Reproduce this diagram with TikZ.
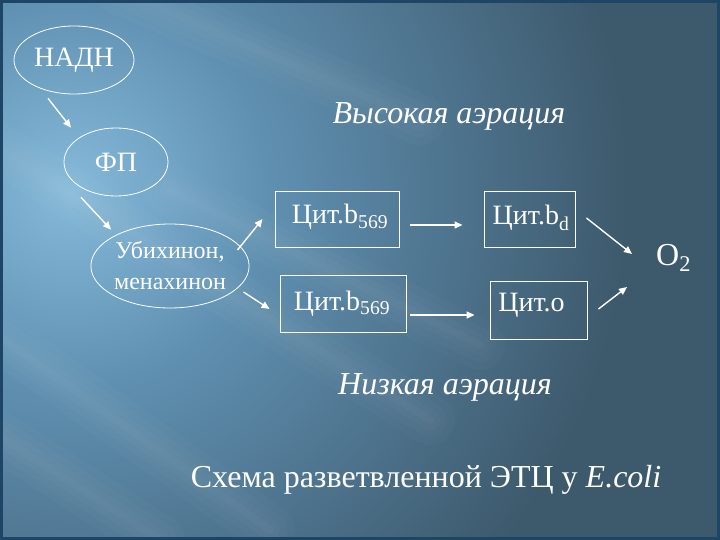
\documentclass[tikz,border=0pt]{standalone}
\usepackage{fontspec}
\setmainfont{Liberation Serif}
\newfontfamily\tnr{Liberation Serif}
\usetikzlibrary{arrows.meta,shapes.geometric}
\definecolor{bgbase}{HTML}{3D596C}
\definecolor{bgmid}{HTML}{5F8FB0}
\definecolor{bglight}{HTML}{86BADA}
\definecolor{edgec}{HTML}{1E4466}
\pgfdeclareradialshading{glow}{\pgfpoint{0bp}{0bp}}{color(0bp)=(bglight); color(9bp)=(bgmid); color(25bp)=(bgbase); color(50bp)=(bgbase)}
\tikzset{
  ell/.style={draw=white, line width=0.8pt, ellipse, inner sep=0pt},
  box/.style={draw=white, line width=0.9pt, rectangle, inner sep=0pt},
  lbl/.style={text=white, font=\tnr\fontsize{28}{32}\selectfont, inner sep=0pt},
  big/.style={text=white, font=\tnr\fontsize{32}{36}\selectfont, inner sep=0pt},
  arr/.style={draw=white, line width=1.4pt, -{Triangle[length=8pt,width=7pt]}},
  streak/.style={white, line cap=round},
}
\begin{document}
\begin{tikzpicture}[x=1pt,y=-1pt]
\useasboundingbox (0,0) rectangle (720,540);
% background
\begin{scope}
  \clip (0,0) rectangle (720,540);
  \fill[bgbase] (0,0) rectangle (720,540);
  \shade[shading=glow] (70,190) circle [radius=560];
  \foreach \a/\b in {{(-30,130)}/{(430,420)}, {(170,190)}/{(480,345)}, {(-10,330)}/{(270,530)}, {(-10,430)}/{(160,540)}, {(120,-10)}/{(420,120)}}{
    \draw[streak, line width=50pt, opacity=0.018] \a -- \b;
    \draw[streak, line width=34pt, opacity=0.018] \a -- \b;
    \draw[streak, line width=20pt, opacity=0.02] \a -- \b;
    \draw[streak, line width=8pt, opacity=0.025] \a -- \b;
  }
\end{scope}
\draw[edgec, line width=3pt] (1.5,1.5) rectangle (718.5,538.5);

% ellipses
\node[ell, lbl, minimum width=120pt, minimum height=68pt] (nadh) at (74,60) {НАДН};
\node[ell, lbl, minimum width=104pt, minimum height=68pt] (fp) at (116,162) {ФП};
\node[ell, text=white, font=\tnr\fontsize{24}{31}\selectfont, align=center, minimum width=142pt, minimum height=84pt] (ubi) at (170,266) {Убихинон,\\менахинон};

% boxes
\node[box, minimum width=124pt, minimum height=56pt] (b1) at (337,219) {};
\node[box, minimum width=91pt, minimum height=56pt] (bd) at (529.5,219) {};
\node[box, minimum width=126pt, minimum height=57pt] (b2) at (343,303.5) {};
\node[box, minimum width=97pt, minimum height=58pt] (co) at (538.5,310) {};

\node[lbl, anchor=base] (t1) at ([shift={(3,5)}]b1.center) {Цит.b\textsubscript{569}};
\node[lbl, anchor=base] (td) at ([shift={(1.5,6)}]bd.center) {Цит.b\textsubscript{d}};
\node[lbl, anchor=base] (t2) at ([shift={(-1,6.5)}]b2.center) {Цит.b\textsubscript{569}};
\node[lbl, anchor=base] (to) at ([shift={(-7,1)}]co.center) {Цит.o};

\node[big, anchor=base west] (o2) at (656,265) {O\textsubscript{2}};

% texts
\node[big, font=\tnr\fontsize{32}{36}\selectfont\itshape, anchor=base] (high) at (449,124) {Высокая аэрация};
\node[big, font=\tnr\fontsize{32}{36}\selectfont\itshape, anchor=base] (low) at (445,394) {Низкая аэрация};
\node[big, anchor=base] (cap) at (426,487) {Схема разветвленной ЭТЦ у \textit{E.coli}};

% arrows
\draw[arr] ([shift={(-26,4)}]nadh.south) -- ([shift={(-45,0)}]fp.north);
\draw[arr] ([shift={(-35,1)}]fp.south) -- ([shift={(-59,6)}]ubi.north);
\draw[arr] ([shift={(-12,-16)}]ubi.east) -- ([shift={(-12,0)}]b1.west);
\draw[arr] ([shift={(-6,26)}]ubi.east) -- ([shift={(-10,5.5)}]b2.west);
\draw[arr] ([shift={(11,6)}]b1.east) -- ([shift={(-21,6)}]bd.west);
\draw[arr] ([shift={(11,-1)}]bd.east) -- ([shift={(-24,-11)}]o2.base west);
\draw[arr] ([shift={(4,11.5)}]b2.east) -- ([shift={(-15,5)}]co.west);
\draw[arr] ([shift={(11,-1)}]co.east) -- ([shift={(-29,22)}]o2.base west);
\end{tikzpicture}
\end{document}
